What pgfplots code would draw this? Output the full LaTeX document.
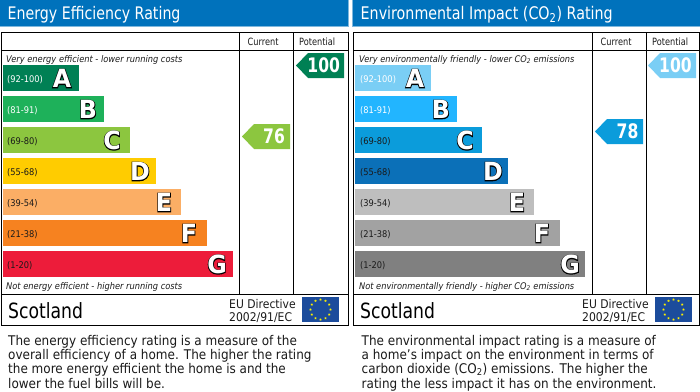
\documentclass[border=0pt]{standalone}
\usepackage{pgfplots}
\pgfplotsset{compat=1.18}
\usepackage{fontspec}
\setmainfont{DejaVu Sans}[FakeStretch=0.9]
\newfontfamily\nar{DejaVu Sans}[FakeStretch=0.82]
\newfontfamily\narb{DejaVu Sans Bold}[FakeStretch=0.78]
\newfontfamily\letr{DejaVu Sans Bold}[FakeStretch=0.95]
\newfontfamily\letro{DejaVu Sans Bold}[FakeStretch=0.95,FakeBold=6]
\definecolor{band}{HTML}{0072BC}
\definecolor{bandl}{HTML}{7FB8DD}
\definecolor{gA}{HTML}{008054}\definecolor{gB}{HTML}{1EB15A}\definecolor{gC}{HTML}{8CC63F}
\definecolor{gD}{HTML}{FFCC00}\definecolor{gE}{HTML}{FBAE65}\definecolor{gF}{HTML}{F68220}\definecolor{gG}{HTML}{ED1C3A}
\definecolor{eA}{HTML}{7ACEF5}\definecolor{eB}{HTML}{22B5FF}\definecolor{eC}{HTML}{0B9CDB}
\definecolor{eD}{HTML}{0B70B8}\definecolor{eE}{HTML}{BEBEBE}\definecolor{eF}{HTML}{A2A2A2}\definecolor{eG}{HTML}{808080}
\definecolor{txt}{HTML}{1A1A1A}
\definecolor{eu}{HTML}{1C4C9C}
\newcommand{\T}[4]{\node[anchor=base west,inner sep=0pt,text=#3] at (axis cs:#1,#2) {#4};}
\newcommand{\sz}[1]{\fontsize{#1}{#1}\selectfont}
% outlined grade letter: emboldened black copy under a white copy
\newcommand{\G}[3]{%
\node[inner sep=0pt,text=black] at (axis cs:#1,#2) {\sz{25}\letro\vphantom{A}#3};%
\node[inner sep=0pt,text=white] at (axis cs:#1,#2) {\sz{25}\letr\vphantom{A}#3};}
\begin{document}
\begin{tikzpicture}[x=1pt,y=1pt]
\useasboundingbox (0,0) rectangle (700pt,391pt);
\begin{axis}[at={(0,0)},anchor=south west,scale only axis,width=700pt,height=391pt,
  xmin=0,xmax=700,ymin=0,ymax=391,y dir=reverse,hide axis,clip=false]
% title bands
\addplot[fill=bandl,draw=none] coordinates {(0,0)(349,0)(349,26.5)(0,26.5)} -- cycle;
\addplot[fill=bandl,draw=none] coordinates {(352,0)(700,0)(700,26.5)(352,26.5)} -- cycle;
\addplot[fill=band,draw=none] coordinates {(0,0)(348.3,0)(348.3,25.7)(0,25.7)} -- cycle;
\addplot[fill=band,draw=none] coordinates {(352.7,0)(700,0)(700,25.7)(352.7,25.7)} -- cycle;
% energy bars
\addplot[fill=gA,draw=none] coordinates {(3,65)(79,65)(79,91)(3,91)} -- cycle;
\addplot[fill=gB,draw=none] coordinates {(3,96)(104,96)(104,122)(3,122)} -- cycle;
\addplot[fill=gC,draw=none] coordinates {(3,127)(130,127)(130,153)(3,153)} -- cycle;
\addplot[fill=gD,draw=none] coordinates {(3,158)(156,158)(156,184)(3,184)} -- cycle;
\addplot[fill=gE,draw=none] coordinates {(3,189)(181,189)(181,215)(3,215)} -- cycle;
\addplot[fill=gF,draw=none] coordinates {(3,220)(207,220)(207,246)(3,246)} -- cycle;
\addplot[fill=gG,draw=none] coordinates {(3,251)(233,251)(233,277)(3,277)} -- cycle;
% environment bars
\addplot[fill=eA,draw=none] coordinates {(355,65)(431,65)(431,91)(355,91)} -- cycle;
\addplot[fill=eB,draw=none] coordinates {(355,96)(457,96)(457,122)(355,122)} -- cycle;
\addplot[fill=eC,draw=none] coordinates {(355,127)(482,127)(482,153)(355,153)} -- cycle;
\addplot[fill=eD,draw=none] coordinates {(355,158)(508,158)(508,184)(355,184)} -- cycle;
\addplot[fill=eE,draw=none] coordinates {(355,189)(534,189)(534,215)(355,215)} -- cycle;
\addplot[fill=eF,draw=none] coordinates {(355,220)(560,220)(560,246)(355,246)} -- cycle;
\addplot[fill=eG,draw=none] coordinates {(355,251)(585,251)(585,277)(355,277)} -- cycle;
% pointers
\addplot[fill=gA,draw=none] coordinates {(296,65.5)(308,53)(344,53)(344,78)(308,78)} -- cycle;
\addplot[fill=gC,draw=none] coordinates {(242,136.5)(254,124)(290,124)(290,149)(254,149)} -- cycle;
\addplot[fill=eA,draw=none] coordinates {(648,65.5)(660,53)(696,53)(696,78)(660,78)} -- cycle;
\addplot[fill=eC,draw=none] coordinates {(595,131.5)(607,119)(643,119)(643,144)(607,144)} -- cycle;
% flags
\addplot[fill=eu,draw=none] coordinates {(302,297)(339,297)(339,322)(302,322)} -- cycle;
\addplot[fill=eu,draw=none] coordinates {(655,297)(692,297)(692,322)(655,322)} -- cycle;
\addplot[only marks,mark=star,mark size=1.2pt,yellow,mark options={line width=.5pt}] coordinates {
(320.5,299.5)(325.5,300.8)(329.2,304.5)(330.5,309.5)(329.2,314.5)(325.5,318.2)(320.5,319.5)(315.5,318.2)(311.8,314.5)(310.5,309.5)(311.8,304.5)(315.5,300.8)};
\addplot[only marks,mark=star,mark size=1.2pt,yellow,mark options={line width=.5pt}] coordinates {
(673.5,299.5)(678.5,300.8)(682.2,304.5)(683.5,309.5)(682.2,314.5)(678.5,318.2)(673.5,319.5)(668.5,318.2)(664.8,314.5)(663.5,309.5)(664.8,304.5)(668.5,300.8)};
% frames
\draw[black,line width=1pt] (axis cs:1,32) rectangle (axis cs:348,325);
\draw[black,line width=1pt] (axis cs:1,50.5)--(axis cs:348,50.5);
\draw[black,line width=1pt] (axis cs:1,294.5)--(axis cs:348,294.5);
\draw[black,line width=1pt] (axis cs:239.5,32)--(axis cs:239.5,294.5);
\draw[black,line width=1pt] (axis cs:293.5,32)--(axis cs:293.5,294.5);
\draw[black,line width=1pt] (axis cs:353,32) rectangle (axis cs:699.5,325);
\draw[black,line width=1pt] (axis cs:353,50.5)--(axis cs:699.5,50.5);
\draw[black,line width=1pt] (axis cs:353,294.5)--(axis cs:699.5,294.5);
\draw[black,line width=1pt] (axis cs:592.5,32)--(axis cs:592.5,294.5);
\draw[black,line width=1pt] (axis cs:646.5,32)--(axis cs:646.5,294.5);
% titles
\T{7.5}{19.5}{white}{\nar\sz{17.3}Energy Efficiency Rating}
\T{360.5}{19.5}{white}{\nar\sz{17.4}Environmental Impact (CO\textsubscript{2}) Rating}
\T{247.5}{45}{txt}{\nar\sz{10}Current}
\T{299}{45}{txt}{\nar\sz{10}Potential}
\T{600.5}{45}{txt}{\nar\sz{10}Current}
\T{652}{45}{txt}{\nar\sz{10}Potential}
% italic captions
\T{6}{62}{txt}{\sz{9.2}\itshape Very energy efficient - lower running costs}
\T{6}{289}{txt}{\sz{9.2}\itshape Not energy efficient - higher running costs}
\T{359}{62}{txt}{\sz{9.15}\itshape Very environmentally friendly - lower CO\textsubscript{2} emissions}
\T{359}{289}{txt}{\sz{9.15}\itshape Not environmentally friendly - higher CO\textsubscript{2} emissions}
% ranges
\T{7}{82}{white}{\sz{9.2}(92-100)}\T{7}{113}{white}{\sz{9.2}(81-91)}\T{7}{144}{txt}{\sz{9.2}(69-80)}
\T{7}{175}{txt}{\sz{9.2}(55-68)}\T{7}{206}{txt}{\sz{9.2}(39-54)}\T{7}{237}{txt}{\sz{9.2}(21-38)}\T{7}{268}{txt}{\sz{9.2}(1-20)}
\T{360}{82}{white}{\sz{9.2}(92-100)}\T{360}{113}{white}{\sz{9.2}(81-91)}\T{360}{144}{txt}{\sz{9.2}(69-80)}
\T{360}{175}{txt}{\sz{9.2}(55-68)}\T{360}{206}{txt}{\sz{9.2}(39-54)}\T{360}{237}{txt}{\sz{9.2}(21-38)}\T{360}{268}{txt}{\sz{9.2}(1-20)}
% grades
\G{62}{78.5}{A}\G{88}{109.5}{B}\G{112}{140.5}{C}\G{140}{171.5}{D}\G{164}{202.5}{E}\G{189}{233.5}{F}\G{217}{264.5}{G}
\G{415}{78.5}{A}\G{441}{109.5}{B}\G{465}{140.5}{C}\G{493}{171.5}{D}\G{517}{202.5}{E}\G{542}{233.5}{F}\G{570}{264.5}{G}
% pointer numbers
\node[inner sep=0pt,text=white] at (axis cs:323.7,65.5) {\narb\sz{20}100};
\node[inner sep=0pt,text=white] at (axis cs:274,136.5) {\narb\sz{20}76};
\node[inner sep=0pt,text=white] at (axis cs:675.5,65.5) {\narb\sz{20}100};
\node[inner sep=0pt,text=white] at (axis cs:627.5,131.5) {\narb\sz{20}78};
% footer row
\T{8}{318}{black}{\nar\sz{21}Scotland}
\T{360}{318}{black}{\nar\sz{21}Scotland}
\T{229}{308}{txt}{\sz{12}EU Directive}
\T{229}{321.5}{txt}{\sz{12}2002/91/EC}
\T{582}{308}{txt}{\sz{12}EU Directive}
\T{582}{321.5}{txt}{\sz{12}2002/91/EC}
% descriptions
\T{8}{345}{txt}{\sz{13.35}The energy efficiency rating is a measure of the}
\T{8}{359}{txt}{\sz{13.35}overall efficiency of a home. The higher the rating}
\T{8}{373.5}{txt}{\sz{13.35}the more energy efficient the home is and the}
\T{8}{388}{txt}{\sz{13.35}lower the fuel bills will be.}
\T{361.5}{345}{txt}{\sz{13.35}The environmental impact rating is a measure of}
\T{361.5}{359}{txt}{\sz{13.35}a home's impact on the environment in terms of}
\T{361.5}{373.5}{txt}{\sz{13.35}carbon dioxide (CO\textsubscript{2}) emissions. The higher the}
\T{361.5}{388}{txt}{\sz{13.35}rating the less impact it has on the environment.}
\end{axis}
\end{tikzpicture}
\end{document}
